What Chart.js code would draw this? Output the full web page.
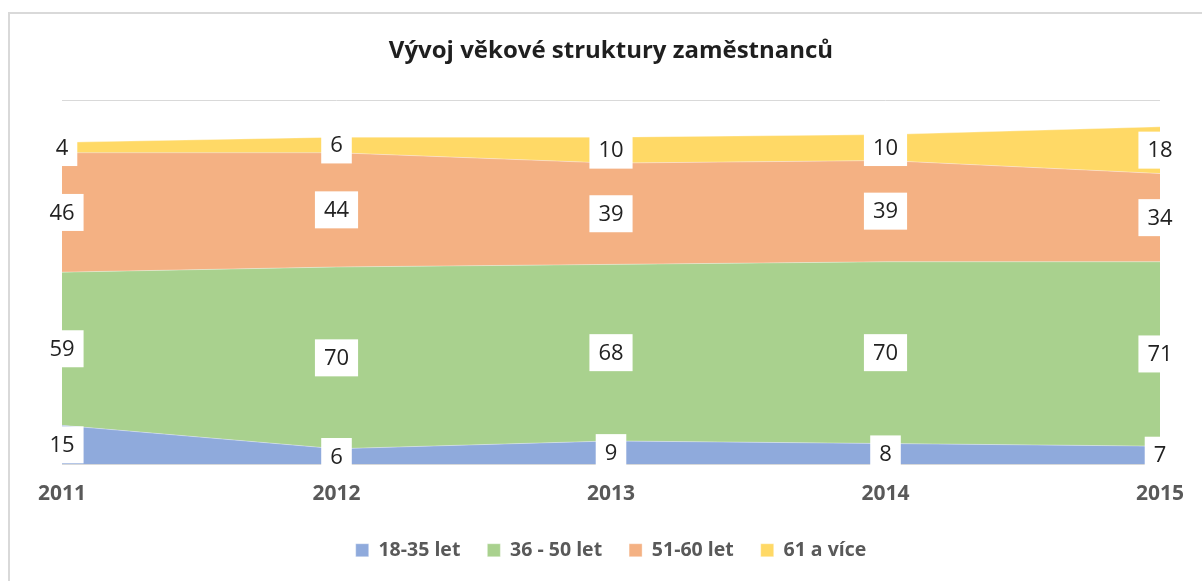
<!DOCTYPE html>
<html>
<head>
<meta charset="utf-8">
<script src="https://cdn.jsdelivr.net/npm/chart.js@4/dist/chart.umd.min.js"></script>
<style>
  body { margin: 0; background: #fff; }
</style>
</head>
<body>
<canvas id="myChart" width="1202" height="581"></canvas>
<script>
const years = ["2011", "2012", "2013", "2014", "2015"];
const age18_35 = [15, 6, 9, 8, 7];
const age36_50 = [59, 70, 68, 70, 71];
const age51_60 = [46, 44, 39, 39, 34];
const age61plus = [4, 6, 10, 10, 18];
const seriesNames = ["18-35 let", "36 - 50 let", "51-60 let", "61 a více"];

const FONT = "'Open Sans', 'Noto Sans', sans-serif";

// okraj grafu (jen levy a horni okraj je videt)
const frame = {
    id: "frame",
    beforeDraw(chart) {
        const c = chart.ctx;
        c.save();
        c.fillStyle = "#fff";
        c.fillRect(0, 0, chart.width, chart.height);
        c.strokeStyle = "#d9d9d9";
        c.lineWidth = 2;
        c.beginPath();
        c.moveTo(9, chart.height);
        c.lineTo(9, 13);
        c.lineTo(chart.width, 13);
        c.stroke();
        c.restore();
    },
};

// popisky hodnot v bilych rameckach uprostred kazde vrstvy
const boxLabels = {
    id: "boxLabels",
    afterDatasetsDraw(chart) {
        const c = chart.ctx;
        const xs = chart.scales.x;
        const ys = chart.scales.y;
        c.save();
        c.font = "22px " + FONT;
        c.textAlign = "center";
        c.textBaseline = "middle";
        const sums = years.map(() => 0);
        chart.data.datasets.forEach((ds) => {
            ds.data.forEach((v, i) => {
                const mid = sums[i] + v / 2;
                sums[i] += v;
                const x = xs.getPixelForValue(i);
                const y = ys.getPixelForValue(mid);
                const w = c.measureText(String(v)).width + 18;
                const h = 37;
                c.fillStyle = "#fff";
                c.fillRect(x - w / 2, y - h / 2, w, h);
                c.fillStyle = "#222";
                c.fillText(String(v), x, y + 1);
            });
        });
        c.restore();
    },
};

const ctx = document.getElementById("myChart").getContext("2d");
const myChart = new Chart(ctx, {
    type: "line",
    data: {
        labels: years,
        datasets: [
            { label: seriesNames[0], data: age18_35, backgroundColor: "#8faadc", fill: "origin" },
            { label: seriesNames[1], data: age36_50, backgroundColor: "#a9d18e", fill: "-1" },
            { label: seriesNames[2], data: age51_60, backgroundColor: "#f4b183", fill: "-1" },
            { label: seriesNames[3], data: age61plus, backgroundColor: "#ffd966", fill: "-1" },
        ].map((d) => Object.assign(d, {
            borderColor: "rgba(255,255,255,0.35)",
            borderWidth: 1,
            pointRadius: 0,
            tension: 0,
        })),
    },
    options: {
        responsive: false,
        animation: false,
        layout: { padding: { left: 62, right: 42, top: 0, bottom: 11 } },
        plugins: {
            title: {
                display: true,
                text: "Vývoj věkové struktury zaměstnanců",
                color: "#1f1f1f",
                font: { family: FONT, size: 24, weight: "bold" },
                padding: { top: 37, bottom: 35 },
            },
            legend: {
                position: "bottom",
                labels: {
                    color: "#595959",
                    font: { family: FONT, size: 19.5, weight: "bold" },
                    boxWidth: 13,
                    boxHeight: 13,
                    padding: 27,
                },
            },
            tooltip: { enabled: false },
        },
        scales: {
            x: {
                offset: false,
                grid: { display: false },
                border: { color: "#d9d9d9" },
                ticks: {
                    color: "#595959",
                    font: { family: FONT, size: 21, weight: "bold" },
                    padding: 9,
                    maxRotation: 0,
                },
                afterFit: (scale) => { scale.height -= 2; },
            },
            y: {
                stacked: true,
                min: 0,
                max: 140,
                ticks: { display: false, stepSize: 20 },
                grid: { color: "#d9d9d9", drawTicks: false },
                border: { display: false },
            },
        },
    },
    plugins: [frame, boxLabels],
});
</script>
</body>
</html>
